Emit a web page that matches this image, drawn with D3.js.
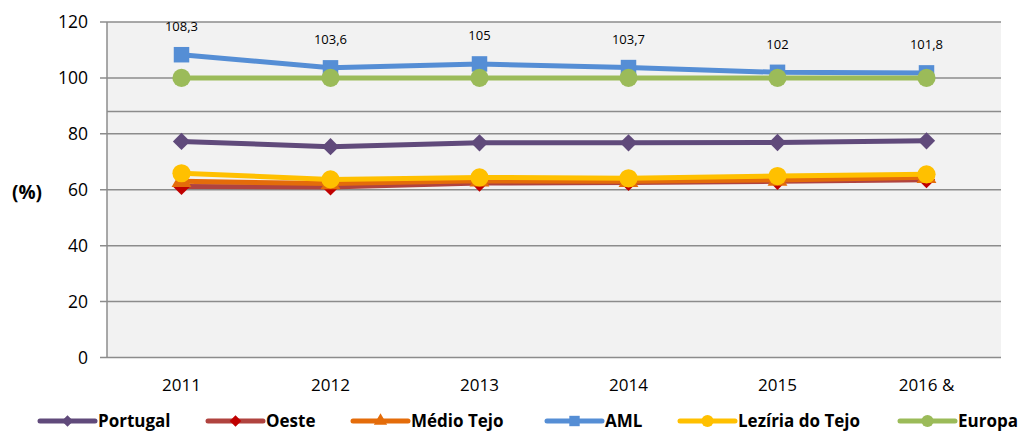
<!DOCTYPE html>
<html><head><meta charset="utf-8">
<script src="https://cdn.jsdelivr.net/npm/d3@7"></script>
<style>body{margin:0;background:#fff}svg{display:block;font-family:"Open Sans","Noto Sans",sans-serif}</style>
</head><body><svg id="c" width="1023" height="433"></svg>
<script>
const categories = ["2011","2012","2013","2014","2015","2016 &"];
const portugal = [77.3, 75.4, 76.8, 76.8, 76.9, 77.5];
const oeste = [61.2, 61.0, 62.4, 62.6, 63.0, 63.6];
const medioTejo = [63.0, 62.2, 63.2, 63.0, 63.5, 64.5];
const aml = [108.3, 103.6, 105, 103.7, 102, 101.8];
const leziria = [65.9, 63.7, 64.4, 64.1, 64.9, 65.5];
const europa = [100, 100, 100, 100, 100, 100];
const yTicks = [0, 20, 40, 60, 80, 100, 120];
const amlLabels = ["108,3","103,6","105","103,7","102","101,8"];

const series = [
  {name:"Portugal", values:portugal, line:"#604a7b", fill:"#604a7b", sym:"diamond"},
  {name:"Oeste", values:oeste, line:"#b0433f", fill:"#c00000", sym:"diamond"},
  {name:"Médio Tejo", values:medioTejo, line:"#e46c0a", fill:"#e46c0a", sym:"triangle"},
  {name:"AML", values:aml, line:"#558ed5", fill:"#558ed5", sym:"square"},
  {name:"Lezíria do Tejo", values:leziria, line:"#ffc000", fill:"#ffc000", sym:"circle"},
  {name:"Europa", values:europa, line:"#9bbb59", fill:"#9bbb59", sym:"circle"}
];

const svg = d3.select("#c");
const L = 107, R = 1001, T = 22, B = 357.5;
const x = d3.scaleBand().domain(categories).range([L, R]);
const y = d3.scaleLinear().domain([0, 120]).range([B, T]);
const cx = d => x(d) + x.bandwidth()/2;

svg.append("rect").attr("x", L).attr("y", T).attr("width", R-L).attr("height", B-T).attr("fill", "#f2f2f2");

// gridlines
svg.append("g").selectAll("line").data(yTicks).join("line")
  .attr("x1", L-7).attr("x2", R).attr("y1", d=>y(d)).attr("y2", d=>y(d))
  .attr("stroke", "#8c8c8c").attr("stroke-width", 1.5);
// extra line
svg.append("line").attr("x1", L).attr("x2", R).attr("y1", y(88)).attr("y2", y(88))
  .attr("stroke", "#8c8c8c").attr("stroke-width", 1.5);
// y axis line
svg.append("line").attr("x1", L).attr("x2", L).attr("y1", T).attr("y2", B)
  .attr("stroke", "#8c8c8c").attr("stroke-width", 1.5);

// y labels
svg.append("g").selectAll("text").data(yTicks).join("text")
  .attr("x", 88).attr("y", d=>y(d)).attr("dy", "0.35em").attr("text-anchor", "end")
  .attr("font-size", 17.5).attr("fill", "#000").text(d=>d);
svg.append("text").attr("x", 27).attr("y", 192).attr("dy","0.35em").attr("text-anchor","middle")
  .attr("font-size", 19).attr("font-weight","bold").text("(%)");

// x labels
svg.append("g").selectAll("text").data(categories).join("text")
  .attr("x", d=>cx(d)).attr("y", 385).attr("dy","0.35em").attr("text-anchor","middle")
  .attr("font-size", 17).text(d=>d);

const symMap = {diamond:d3.symbolDiamond2, triangle:d3.symbolTriangle, square:d3.symbolSquare, circle:d3.symbolCircle};
const symSize = {diamond:190, triangle:170, square:240, circle:260};

const line = d3.line().x((d,i)=>cx(categories[i])).y(d=>y(d));
series.forEach(s => {
  const g = svg.append("g");
  g.append("path").attr("d", line(s.values)).attr("fill","none")
    .attr("stroke", s.line).attr("stroke-width", 5).attr("stroke-linejoin","round");
  g.selectAll("path.m").data(s.values).join("path").attr("class","m")
    .attr("transform",(d,i)=>`translate(${cx(categories[i])},${y(d)})`)
    .attr("d", d3.symbol().type(symMap[s.sym]).size(symSize[s.sym]))
    .attr("fill", s.fill);
});

// AML labels
svg.append("g").selectAll("text").data(aml).join("text")
  .attr("x",(d,i)=>cx(categories[i])).attr("y", d=>y(d)-28).attr("dy","0.35em")
  .attr("text-anchor","middle").attr("font-size", 13).text((d,i)=>amlLabels[i]);

// legend
const legX = [40, 208, 353, 547, 680, 900];
const lg = svg.append("g");
series.forEach((s,i) => {
  const x0 = legX[i], yy = 421;
  lg.append("line").attr("x1", x0).attr("x2", x0+55).attr("y1", yy).attr("y2", yy)
    .attr("stroke", s.line).attr("stroke-width", 5).attr("stroke-linecap","round");
  lg.append("path").attr("transform",`translate(${x0+27.5},${yy})`)
    .attr("d", d3.symbol().type(symMap[s.sym]).size(symSize[s.sym]*0.45)).attr("fill", s.fill);
  lg.append("text").attr("x", x0+58).attr("y", yy).attr("dy","0.35em")
    .attr("font-size", 17).attr("font-weight","bold").text(s.name);
});
</script></body></html>
